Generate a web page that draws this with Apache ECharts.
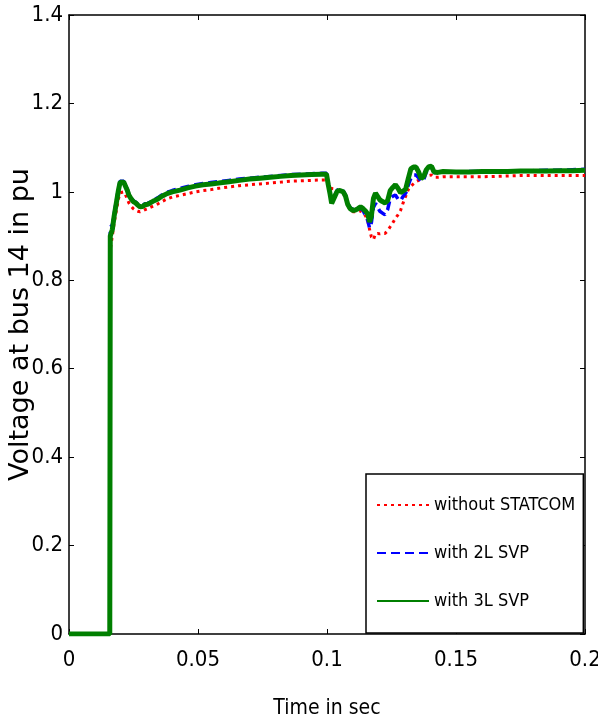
<!DOCTYPE html>
<html>
<head>
<meta charset="utf-8">
<script src="https://cdn.jsdelivr.net/npm/echarts@6/dist/echarts.min.js"></script>
<style>
html,body{margin:0;padding:0;background:#fff;}
#chart{width:598px;height:725px;}
</style>
</head>
<body>
<div id="chart"></div>
<script>
// ---- data ----
const seriesNames = ['without STATCOM', 'with 2L SVP', 'with 3L SVP'];
const xTicks = [0, 0.05, 0.1, 0.15, 0.2];
const yTicks = [0, 0.2, 0.4, 0.6, 0.8, 1, 1.2, 1.4];

const timeSec = [0, 0.0158, 0.0160, 0.0168, 0.0175, 0.0185, 0.0192, 0.0198, 0.0205, 0.0212, 0.0218, 0.0225, 0.0232, 0.0240, 0.0249, 0.0258, 0.0267, 0.0275, 0.0285, 0.0295, 0.0305, 0.0315, 0.033, 0.0345, 0.036, 0.038, 0.040, 0.043, 0.046, 0.049, 0.052, 0.055, 0.058, 0.062, 0.066, 0.070, 0.074, 0.078, 0.082, 0.086, 0.090, 0.094, 0.098, 0.0998, 0.1005, 0.1012, 0.1018, 0.1025, 0.1032, 0.1040, 0.1050, 0.1063, 0.1072, 0.1080, 0.1090, 0.1100, 0.1110, 0.1120, 0.1130, 0.1140, 0.1150, 0.1158, 0.1165, 0.1172, 0.1180, 0.1188, 0.1196, 0.1205, 0.1215, 0.1225, 0.1235, 0.1245, 0.1255, 0.1265, 0.1275, 0.1285, 0.1295, 0.1305, 0.1315, 0.1325, 0.1335, 0.1345, 0.1355, 0.1365, 0.1375, 0.1385, 0.1395, 0.1405, 0.1415, 0.1430, 0.1450, 0.150, 0.155, 0.160, 0.165, 0.170, 0.175, 0.180, 0.185, 0.190, 0.195, 0.200];

const withoutStatcom = [0, 0, 0.87, 0.90, 0.93, 0.962, 0.985, 0.998, 1.000, 1.000, 0.995, 0.985, 0.975, 0.968, 0.962, 0.958, 0.956, 0.955, 0.957, 0.960, 0.962, 0.965, 0.969, 0.973, 0.978, 0.984, 0.988, 0.992, 0.996, 1.000, 1.003, 1.005, 1.008, 1.011, 1.014, 1.016, 1.018, 1.020, 1.022, 1.024, 1.025, 1.026, 1.027, 1.027, 1.015, 1.008, 1.010, 1.007, 1.003, 1.003, 1.000, 0.997, 0.988, 0.970, 0.958, 0.955, 0.955, 0.955, 0.957, 0.953, 0.945, 0.935, 0.915, 0.898, 0.892, 0.905, 0.906, 0.905, 0.906, 0.906, 0.912, 0.921, 0.930, 0.940, 0.948, 0.958, 0.975, 0.990, 1.005, 1.013, 1.018, 1.023, 1.026, 1.030, 1.033, 1.035, 1.037, 1.038, 1.033, 1.033, 1.034, 1.034, 1.034, 1.034, 1.035, 1.036, 1.037, 1.037, 1.037, 1.037, 1.037, 1.037];

const with2L = [0, 0, 0.92, 0.925, 0.95, 0.985, 1.008, 1.024, 1.020, 1.024, 1.021, 1.007, 0.995, 0.987, 0.980, 0.977, 0.972, 0.968, 0.969, 0.973, 0.974, 0.977, 0.982, 0.987, 0.993, 0.999, 1.003, 1.008, 1.012, 1.016, 1.019, 1.021, 1.023, 1.026, 1.029, 1.031, 1.033, 1.035, 1.037, 1.039, 1.040, 1.041, 1.042, 1.042, 1.018, 0.997, 0.976, 0.980, 0.994, 1.004, 1.005, 1.002, 0.992, 0.974, 0.964, 0.960, 0.961, 0.963, 0.962, 0.958, 0.945, 0.935, 0.918, 0.930, 0.965, 0.974, 0.965, 0.956, 0.952, 0.948, 0.960, 0.985, 0.990, 0.993, 0.984, 0.980, 0.990, 0.997, 1.015, 1.031, 1.038, 1.038, 1.032, 1.023, 1.028, 1.045, 1.054, 1.056, 1.044, 1.043, 1.045, 1.045, 1.046, 1.046, 1.047, 1.047, 1.048, 1.048, 1.049, 1.049, 1.050, 1.051];

const with3L = [0, 0, 0.90, 0.915, 0.945, 0.98, 1.005, 1.022, 1.018, 1.022, 1.019, 1.005, 0.993, 0.985, 0.978, 0.975, 0.970, 0.966, 0.967, 0.971, 0.972, 0.975, 0.980, 0.984, 0.990, 0.996, 1.000, 1.004, 1.009, 1.013, 1.016, 1.018, 1.020, 1.023, 1.026, 1.029, 1.031, 1.033, 1.035, 1.037, 1.038, 1.039, 1.040, 1.040, 1.016, 0.995, 0.974, 0.978, 0.992, 1.002, 1.003, 1.000, 0.990, 0.972, 0.962, 0.958, 0.959, 0.962, 0.966, 0.962, 0.956, 0.950, 0.932, 0.945, 0.985, 0.997, 0.990, 0.982, 0.978, 0.975, 0.980, 1.003, 1.010, 1.016, 1.008, 0.998, 1.002, 1.006, 1.030, 1.052, 1.056, 1.056, 1.045, 1.030, 1.035, 1.050, 1.057, 1.058, 1.045, 1.044, 1.046, 1.045, 1.045, 1.046, 1.046, 1.046, 1.047, 1.047, 1.047, 1.048, 1.048, 1.049];

// ---- chart ----
const zip = (ys) => timeSec.map((t, i) => [t, ys[i]]);
const narrow = '"Liberation Sans Narrow", "DejaVu Sans Condensed", "Liberation Sans", sans-serif';
const fmtNum = (v) => String(+v.toFixed(2));

const chart = echarts.init(document.getElementById('chart'), null, {renderer: 'canvas'});
const axisLine = {show: true, onZero: false, lineStyle: {color: '#000', width: 1.5}};
const tick = {show: true, inside: true, length: 5, lineStyle: {color: '#000', width: 1}};

chart.setOption({
  backgroundColor: '#fff',
  animation: false,
  grid: {left: 69, right: 13, top: 15, bottom: 91, containLabel: false, outerBoundsMode: 'none'},
  xAxis: [{
    type: 'value', min: xTicks[0], max: xTicks[xTicks.length - 1], interval: 0.05,
    position: 'bottom',
    axisLine: axisLine, axisTick: tick, splitLine: {show: false},
    axisLabel: {color: '#000', fontFamily: narrow, fontSize: 22, margin: 15, formatter: fmtNum},
    name: 'Time in sec', nameLocation: 'middle', nameGap: 64, nameMoveOverlap: false,
    nameTextStyle: {color: '#000', fontFamily: narrow, fontSize: 21}
  }, {
    type: 'value', min: xTicks[0], max: xTicks[xTicks.length - 1], interval: 0.05,
    position: 'top',
    axisLine: axisLine, axisTick: tick, splitLine: {show: false}, axisLabel: {show: false}
  }],
  yAxis: [{
    type: 'value', min: yTicks[0], max: yTicks[yTicks.length - 1], interval: 0.2,
    position: 'left',
    axisLine: axisLine, axisTick: tick, splitLine: {show: false},
    axisLabel: {color: '#000', fontFamily: narrow, fontSize: 22, margin: 6, formatter: fmtNum},
    name: 'Voltage at bus 14 in pu', nameLocation: 'middle', nameGap: 35, nameMoveOverlap: false,
    nameTextStyle: {color: '#000', fontFamily: '"DejaVu Sans", sans-serif', fontSize: 27}
  }, {
    type: 'value', min: yTicks[0], max: yTicks[yTicks.length - 1], interval: 0.2,
    position: 'right',
    axisLine: axisLine, axisTick: tick, splitLine: {show: false}, axisLabel: {show: false}
  }],
  legend: {
    orient: 'vertical',
    left: 366, top: 474,
    backgroundColor: '#fff',
    borderColor: '#000', borderWidth: 1.5, borderRadius: 0,
    padding: [21, 8, 22, 10],
    itemWidth: 52, itemHeight: 14, itemGap: 28,
    itemStyle: {opacity: 0},
    textStyle: {color: '#000', fontFamily: narrow, fontSize: 18, lineHeight: 20},
    data: seriesNames
  },
  series: [{
    name: seriesNames[0], type: 'line', data: zip(withoutStatcom),
    symbol: 'none', showSymbol: false, z: 2,
    lineStyle: {color: '#ff0000', width: 3, type: [3, 4]},
    itemStyle: {color: '#ff0000'}
  }, {
    name: seriesNames[1], type: 'line', data: zip(with2L),
    symbol: 'none', showSymbol: false, z: 3,
    lineStyle: {color: '#0000ff', width: 3.5, type: [9, 5]},
    itemStyle: {color: '#0000ff'}
  }, {
    name: seriesNames[2], type: 'line', data: zip(with3L),
    symbol: 'none', showSymbol: false, z: 4,
    lineStyle: {color: '#007f00', width: 5, type: 'solid'},
    itemStyle: {color: '#007f00'}
  }]
});
</script>
</body>
</html>
